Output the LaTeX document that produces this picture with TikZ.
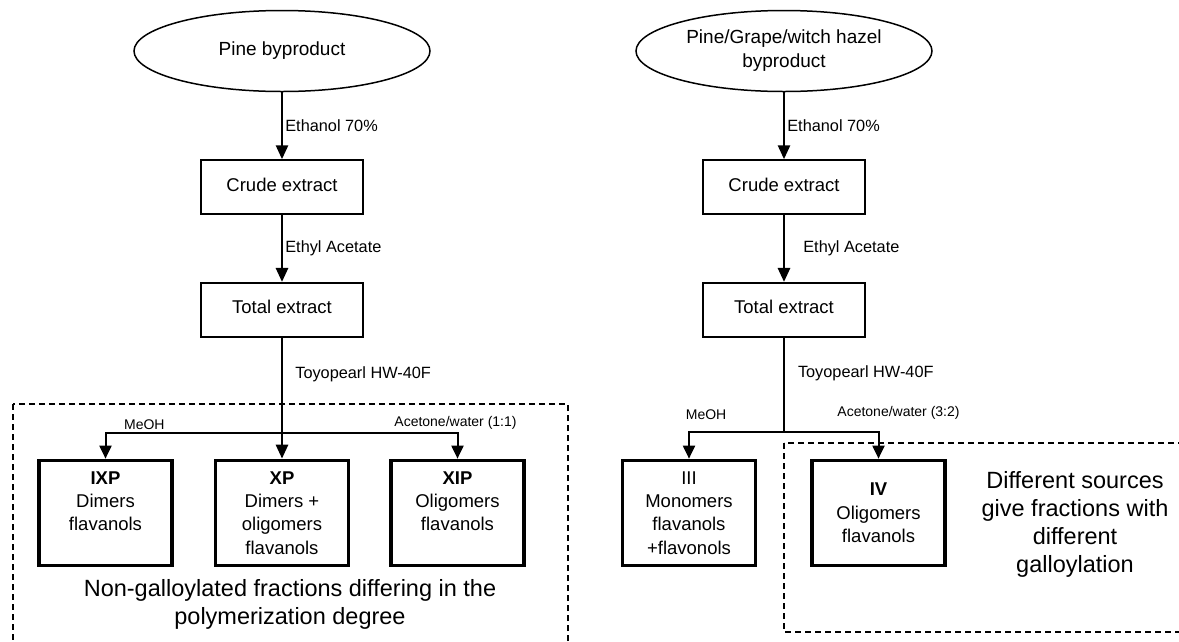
\documentclass[tikz,border=0pt]{standalone}
\usepackage{fontspec}
\setmainfont{Liberation Sans}
\usetikzlibrary{arrows.meta,positioning,shapes.geometric}

\begin{document}
\begin{tikzpicture}[
    x=1pt, y=-1pt,
    src/.style={ellipse, draw, line width=1.5pt, minimum width=296pt, minimum height=81pt, inner sep=0pt, align=center, font=\fontsize{19}{24}\selectfont},
    box/.style={rectangle, draw, line width=1.7pt, minimum width=162pt, minimum height=54pt, inner sep=0pt, text depth=0.55em, font=\fontsize{18.5}{23}\selectfont},
    frac/.style={rectangle, draw, line width=3.5pt, minimum width=133pt, minimum height=105pt, inner sep=0pt, align=center, font=\fontsize{18.5}{23.3}\selectfont},
    lbl/.style={font=\fontsize{16.3}{19}\selectfont, inner sep=2pt},
    slbl/.style={font=\fontsize{14}{16}\selectfont, inner sep=2pt},
    note/.style={align=center, font=\fontsize{23.5}{28}\selectfont},
    arr/.style={-{Triangle[length=14pt,width=12pt]}, line width=2.7pt},
    barr/.style={-{Triangle[length=13pt,width=12pt]}, line width=2pt},
    region/.style={dash pattern=on 6pt off 4pt, line width=1.6pt},
  ]
  \useasboundingbox (0,0) rectangle (1179,641);

  % left column: pine
  \node[src] (src1) at (282,51) {Pine byproduct};
  \node[box, below=67pt of src1] (crude1) {Crude extract};
  \node[box, below=67pt of crude1] (total1) {Total extract};
  \node[frac, below=121pt of total1] (xp) {\textbf{XP}\\Dimers +\\oligomers\\flavanols};
  \node[frac, left=40pt of xp] (ixp) {\textbf{IXP}\\Dimers\\flavanols\\\mbox{}};
  \node[frac, right=39pt of xp] (xip) {\textbf{XIP}\\Oligomers\\flavanols\\\mbox{}};
  \coordinate (split1) at ([yshift=-95pt]total1.south);
  \node[note] (cap1) at (290,604) {Non-galloylated fractions differing in the\\polymerization degree};

  \draw[arr] (src1) -- node[lbl, right, pos=0.5]{Ethanol 70\%} (crude1);
  \draw[arr] (crude1) -- node[lbl, right, pos=0.5]{Ethyl Acetate} (total1);
  \draw[arr] (total1) -- node[lbl, right, pos=0.3, xshift=10pt]{Toyopearl HW-40F} (xp);
  \draw[barr] (split1) -| node[slbl, above, pos=0.39]{MeOH} (ixp);
  \draw[barr] (split1) -| node[slbl, above, pos=0.5, xshift=-2pt]{Acetone/water (1:1)} (xip);
  \draw[region] (13,404) rectangle (568,650);

  % right column: several sources
  \node[src] (src2) at (784,51) {Pine/Grape/witch hazel\\byproduct};
  \node[box, below=67pt of src2] (crude2) {Crude extract};
  \node[box, below=67pt of crude2] (total2) {Total extract};
  \node[frac, below=121pt of total2, xshift=-95pt] (iii) {III\\Monomers\\flavanols\\+flavonols};
  \node[frac, right=53pt of iii] (iv) {\textbf{IV}\\Oligomers\\flavanols};
  \coordinate (split2) at ([yshift=-94pt]total2.south);
  \node[note] (cap2) at (1075,524) {Different sources\\give fractions with\\different\\galloylation};

  \draw[arr] (src2) -- node[lbl, right, pos=0.5]{Ethanol 70\%} (crude2);
  \draw[arr] (crude2) -- node[lbl, right, pos=0.5, xshift=16pt]{Ethyl Acetate} (total2);
  \draw[line width=2pt] (total2) -- node[lbl, right, pos=0.38, xshift=11pt]{Toyopearl HW-40F} (split2);
  \draw[barr] (split2) -| node[slbl, above, pos=0.41, yshift=9pt]{MeOH} (iii);
  \draw[barr] (split2) -| node[slbl, above, pos=0.5, xshift=20pt, yshift=9pt]{Acetone/water (3:2)} (iv);
  \draw[region] (784,443) rectangle (1190,632);
\end{tikzpicture}
\end{document}
